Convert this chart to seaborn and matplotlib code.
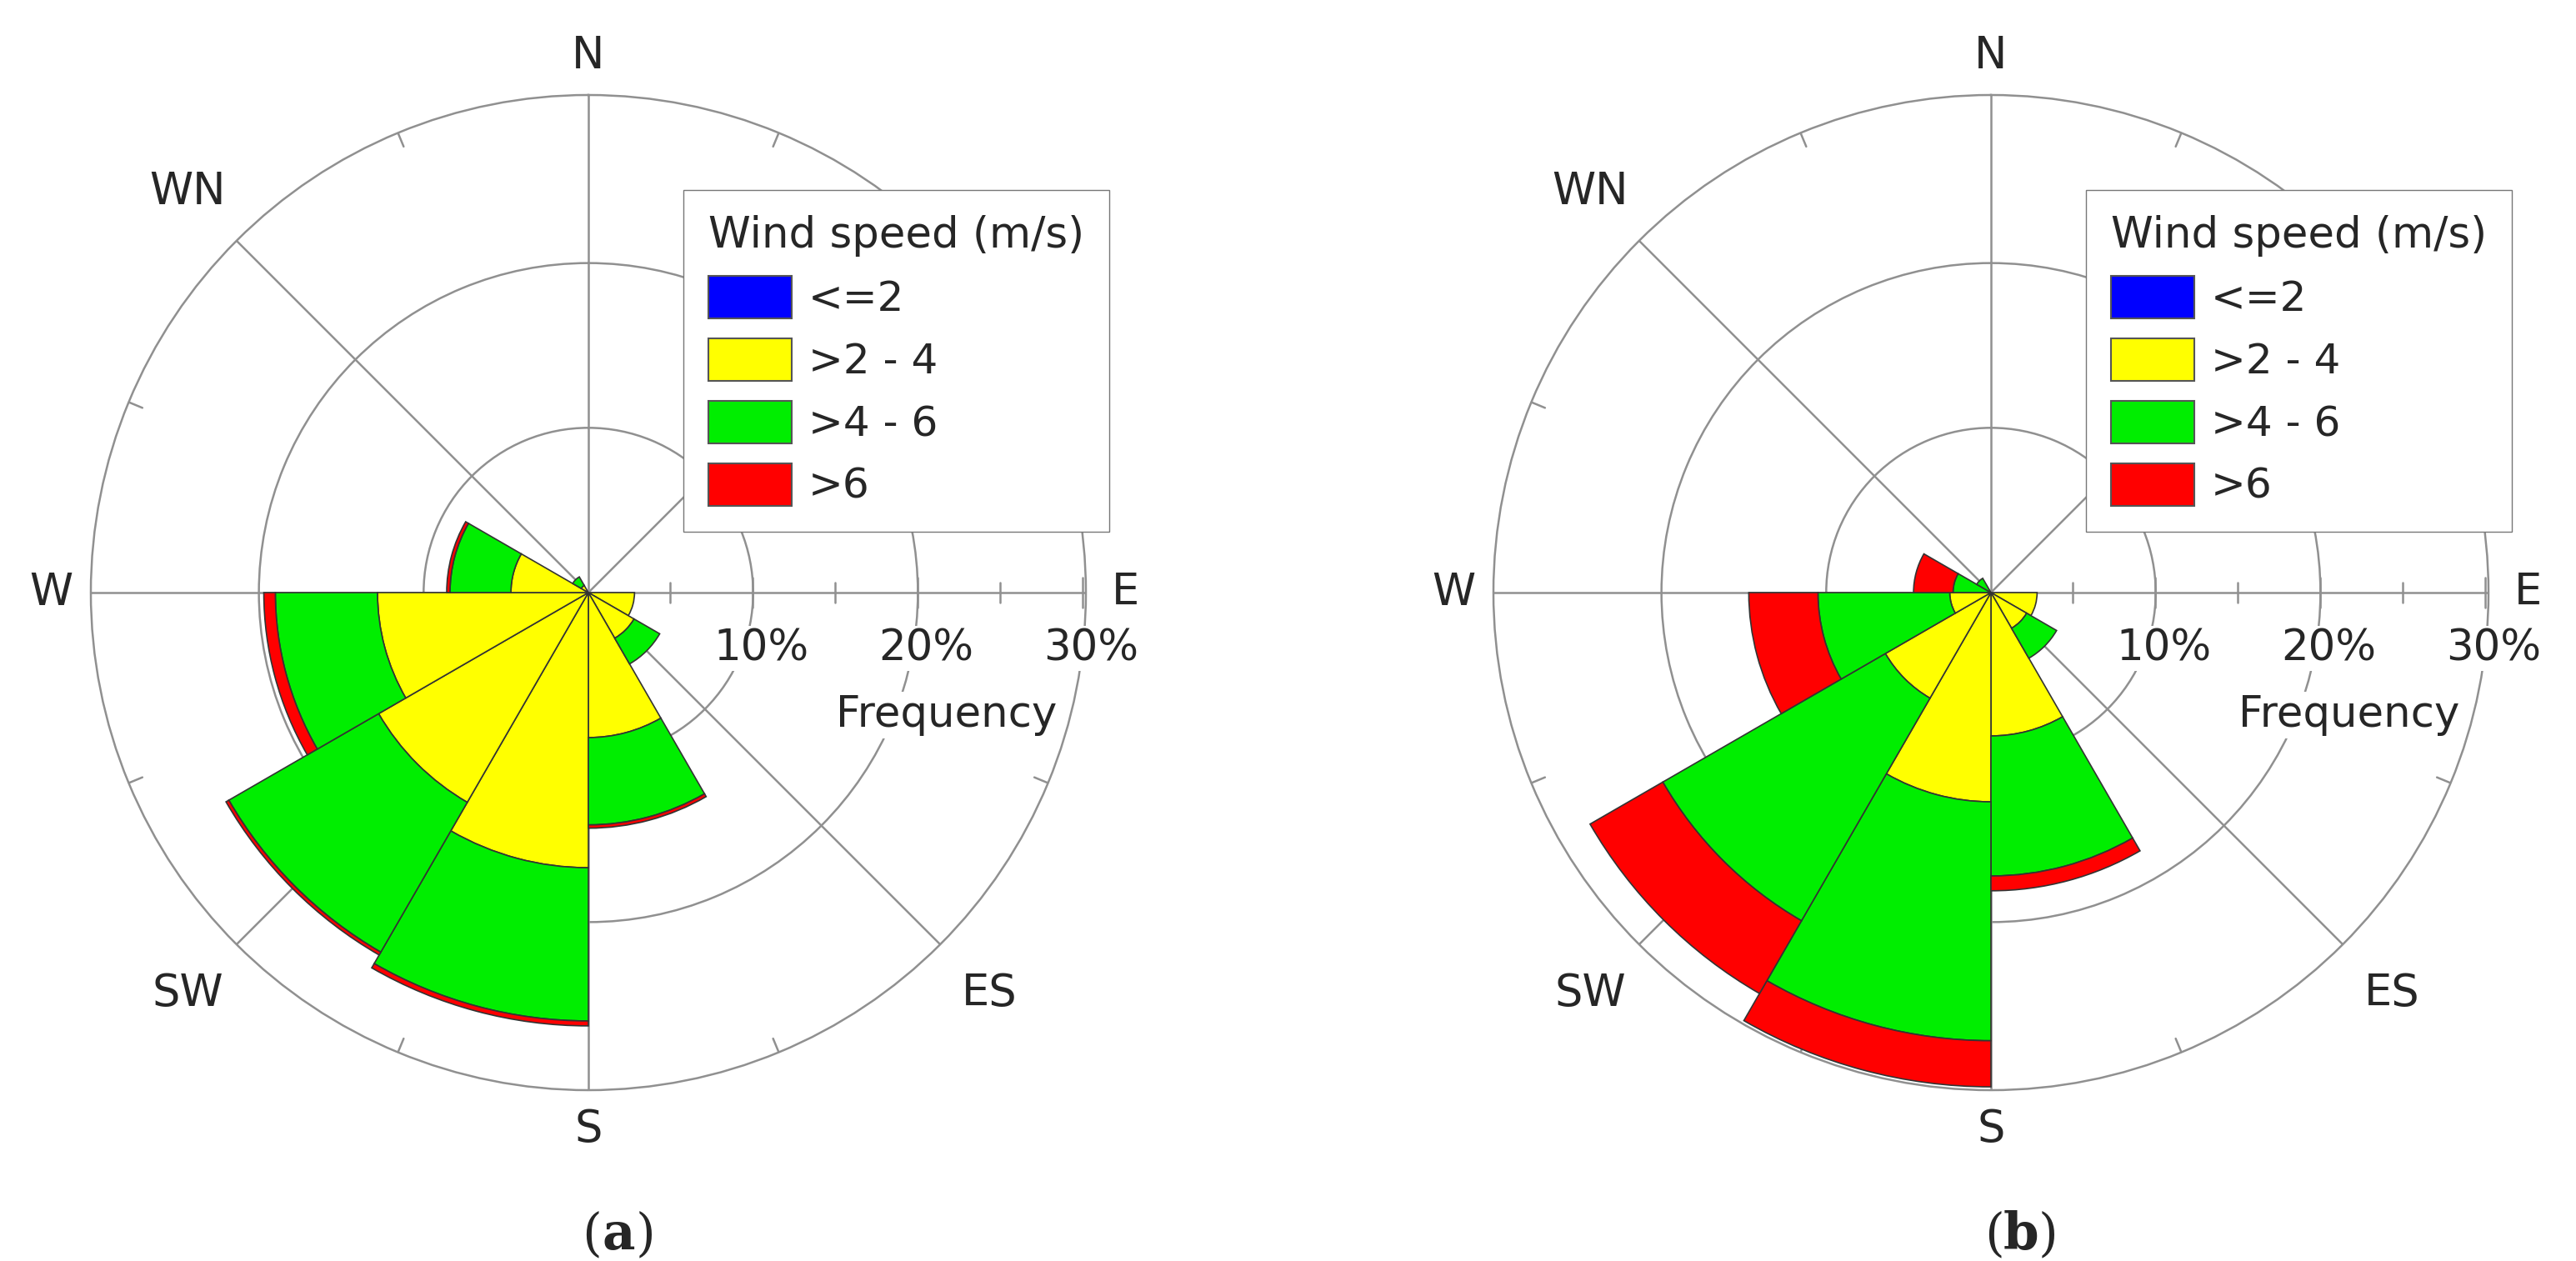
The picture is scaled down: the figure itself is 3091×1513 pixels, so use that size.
import numpy as np
import matplotlib
matplotlib.use("Agg")
import matplotlib.pyplot as plt
import matplotlib.patches as mpatches
import seaborn as sns

sns.set_style("white")
plt.rcParams['font.family'] = ['DejaVu Sans']

W, H = 3091, 1513

# sector start angles (deg, clockwise from north), 30 degree bins
sectors = [0, 30, 60, 90, 120, 150, 180, 210, 240, 270, 300, 330]
speed_classes = ['<=2', '>2 - 4', '>4 - 6', '>6']
class_colors = ['#0000ff', '#ffff00', '#00ee00', '#ff0000']

# frequency (%) of each speed class per sector, panel (a)
a_le2 = [0, 0, 0, 0, 0, 0, 0, 0, 0, 0, 0, 0]
a_2_4 = [0, 0, 0, 2.8, 3.2, 8.8, 16.7, 14.7, 12.8, 4.7, 0.5, 0]
a_4_6 = [0, 0, 0, 0, 1.8, 5.3, 9.3, 10.5, 6.2, 3.7, 0.6, 0]
a_gt6 = [0, 0, 0, 0, 0, 0.2, 0.3, 0.2, 0.7, 0.2, 0, 0]

# panel (b)
b_le2 = [0, 0, 0, 0, 0, 0, 0, 0, 0, 0, 0, 0]
b_2_4 = [0, 0, 0, 2.8, 2.5, 8.7, 12.7, 7.4, 2.5, 0, 0, 0]
b_4_6 = [0, 0, 0, 0, 2.1, 8.5, 14.5, 15.6, 8.0, 2.3, 1.0, 0]
b_gt6 = [0, 0, 0, 0, 0, 0.9, 2.8, 5.1, 4.2, 2.4, 0, 0]

dir_labels = {0: 'N', 90: 'E', 180: 'S', 270: 'W', 315: 'WN', 225: 'SW', 135: 'ES'}
ring_ticks = [10, 20]
RMAX = 30.2
R_PX = 597
CY = 711

fig = plt.figure(figsize=(W / 100, H / 100), dpi=100)


def draw_rose(cx, layers, caption):
    ax = fig.add_axes([(cx - R_PX) / W, (H - CY - R_PX) / H, 2 * R_PX / W, 2 * R_PX / H],
                      projection='polar')
    ax.set_theta_zero_location('N')
    ax.set_theta_direction(-1)
    ax.set_ylim(0, RMAX)
    ax.set_xticks(np.radians(np.arange(0, 360, 45)))
    ax.set_xticklabels([])
    ax.set_yticks(ring_ticks)
    ax.set_yticklabels([])
    ax.grid(True, color='#909090', lw=1.8)
    ax.spines['polar'].set_color('#909090')
    ax.spines['polar'].set_linewidth(1.8)

    theta = np.radians(sectors)
    width = np.radians(30)
    bottom = np.zeros(len(sectors))
    for vals, col in zip(layers, class_colors):
        vals = np.array(vals, dtype=float)
        mask = vals > 0
        ax.bar(theta[mask], vals[mask], width=width, bottom=bottom[mask], align='edge',
               color=col, edgecolor='#333333', linewidth=1.2, zorder=3)
        bottom += vals

    # small ticks on outer circle and along the E axis
    for d in np.arange(22.5, 360, 45):
        ax.plot([np.radians(d)] * 2, [RMAX - 0.9, RMAX], color='#909090', lw=1.8, zorder=2)
    for r in [5, 10, 15, 20, 25, 30]:
        half = 0.9 if r % 10 == 0 else 0.6
        ax.plot([np.radians(90) - half / r, np.radians(90) + half / r], [r, r],
                color='#909090', lw=1.8, zorder=2)

    # direction labels
    for ang, lab in dir_labels.items():
        t = np.radians(ang)
        if ang % 90 == 0:
            rr = RMAX + 2.4
        else:
            rr = RMAX + 4.2
        x = cx + rr / RMAX * R_PX * np.sin(t)
        y = CY - rr / RMAX * R_PX * np.cos(t)
        fig.text(x / W, 1 - y / H, lab, ha='center', va='center', fontsize=38)

    # radial labels
    for r in [10, 20, 30]:
        x = cx + r / RMAX * R_PX + 10
        fig.text(x / W, 1 - 778 / H, f'{r}%', ha='center', va='center', fontsize=37,
                 bbox=dict(facecolor='white', edgecolor='none', pad=1))
    fig.text((cx + 430) / W, 1 - 858 / H, 'Frequency', ha='center', va='center', fontsize=37,
             bbox=dict(facecolor='white', edgecolor='none', pad=2))

    handles = [mpatches.Patch(facecolor=c, edgecolor='#555555', linewidth=1.5) for c in class_colors]
    fig.legend(handles, speed_classes, title='Wind speed (m/s)', loc='upper left',
               bbox_to_anchor=((cx + 114) / W, 1 - 228 / H), borderaxespad=0, fancybox=False,
               edgecolor='#777777', framealpha=1, fontsize=36, title_fontsize=37,
               handlelength=2.0, handleheight=1.2, labelspacing=0.45, borderpad=0.6,
               handletextpad=0.4, alignment='left')

    ccx = cx + 36
    fig.text((ccx - 20) / W, 1 - 1482 / H, '(', ha='right', va='center', fontsize=44, family='serif')
    fig.text(ccx / W, 1 - 1482 / H, caption, ha='center', va='center', fontsize=44,
             family='serif', fontweight='bold')
    fig.text((ccx + 21) / W, 1 - 1482 / H, ')', ha='left', va='center', fontsize=44, family='serif')


draw_rose(706, [a_le2, a_2_4, a_4_6, a_gt6], 'a')
draw_rose(2389, [b_le2, b_2_4, b_4_6, b_gt6], 'b')

fig.savefig('out.png', dpi=100, facecolor='white')
